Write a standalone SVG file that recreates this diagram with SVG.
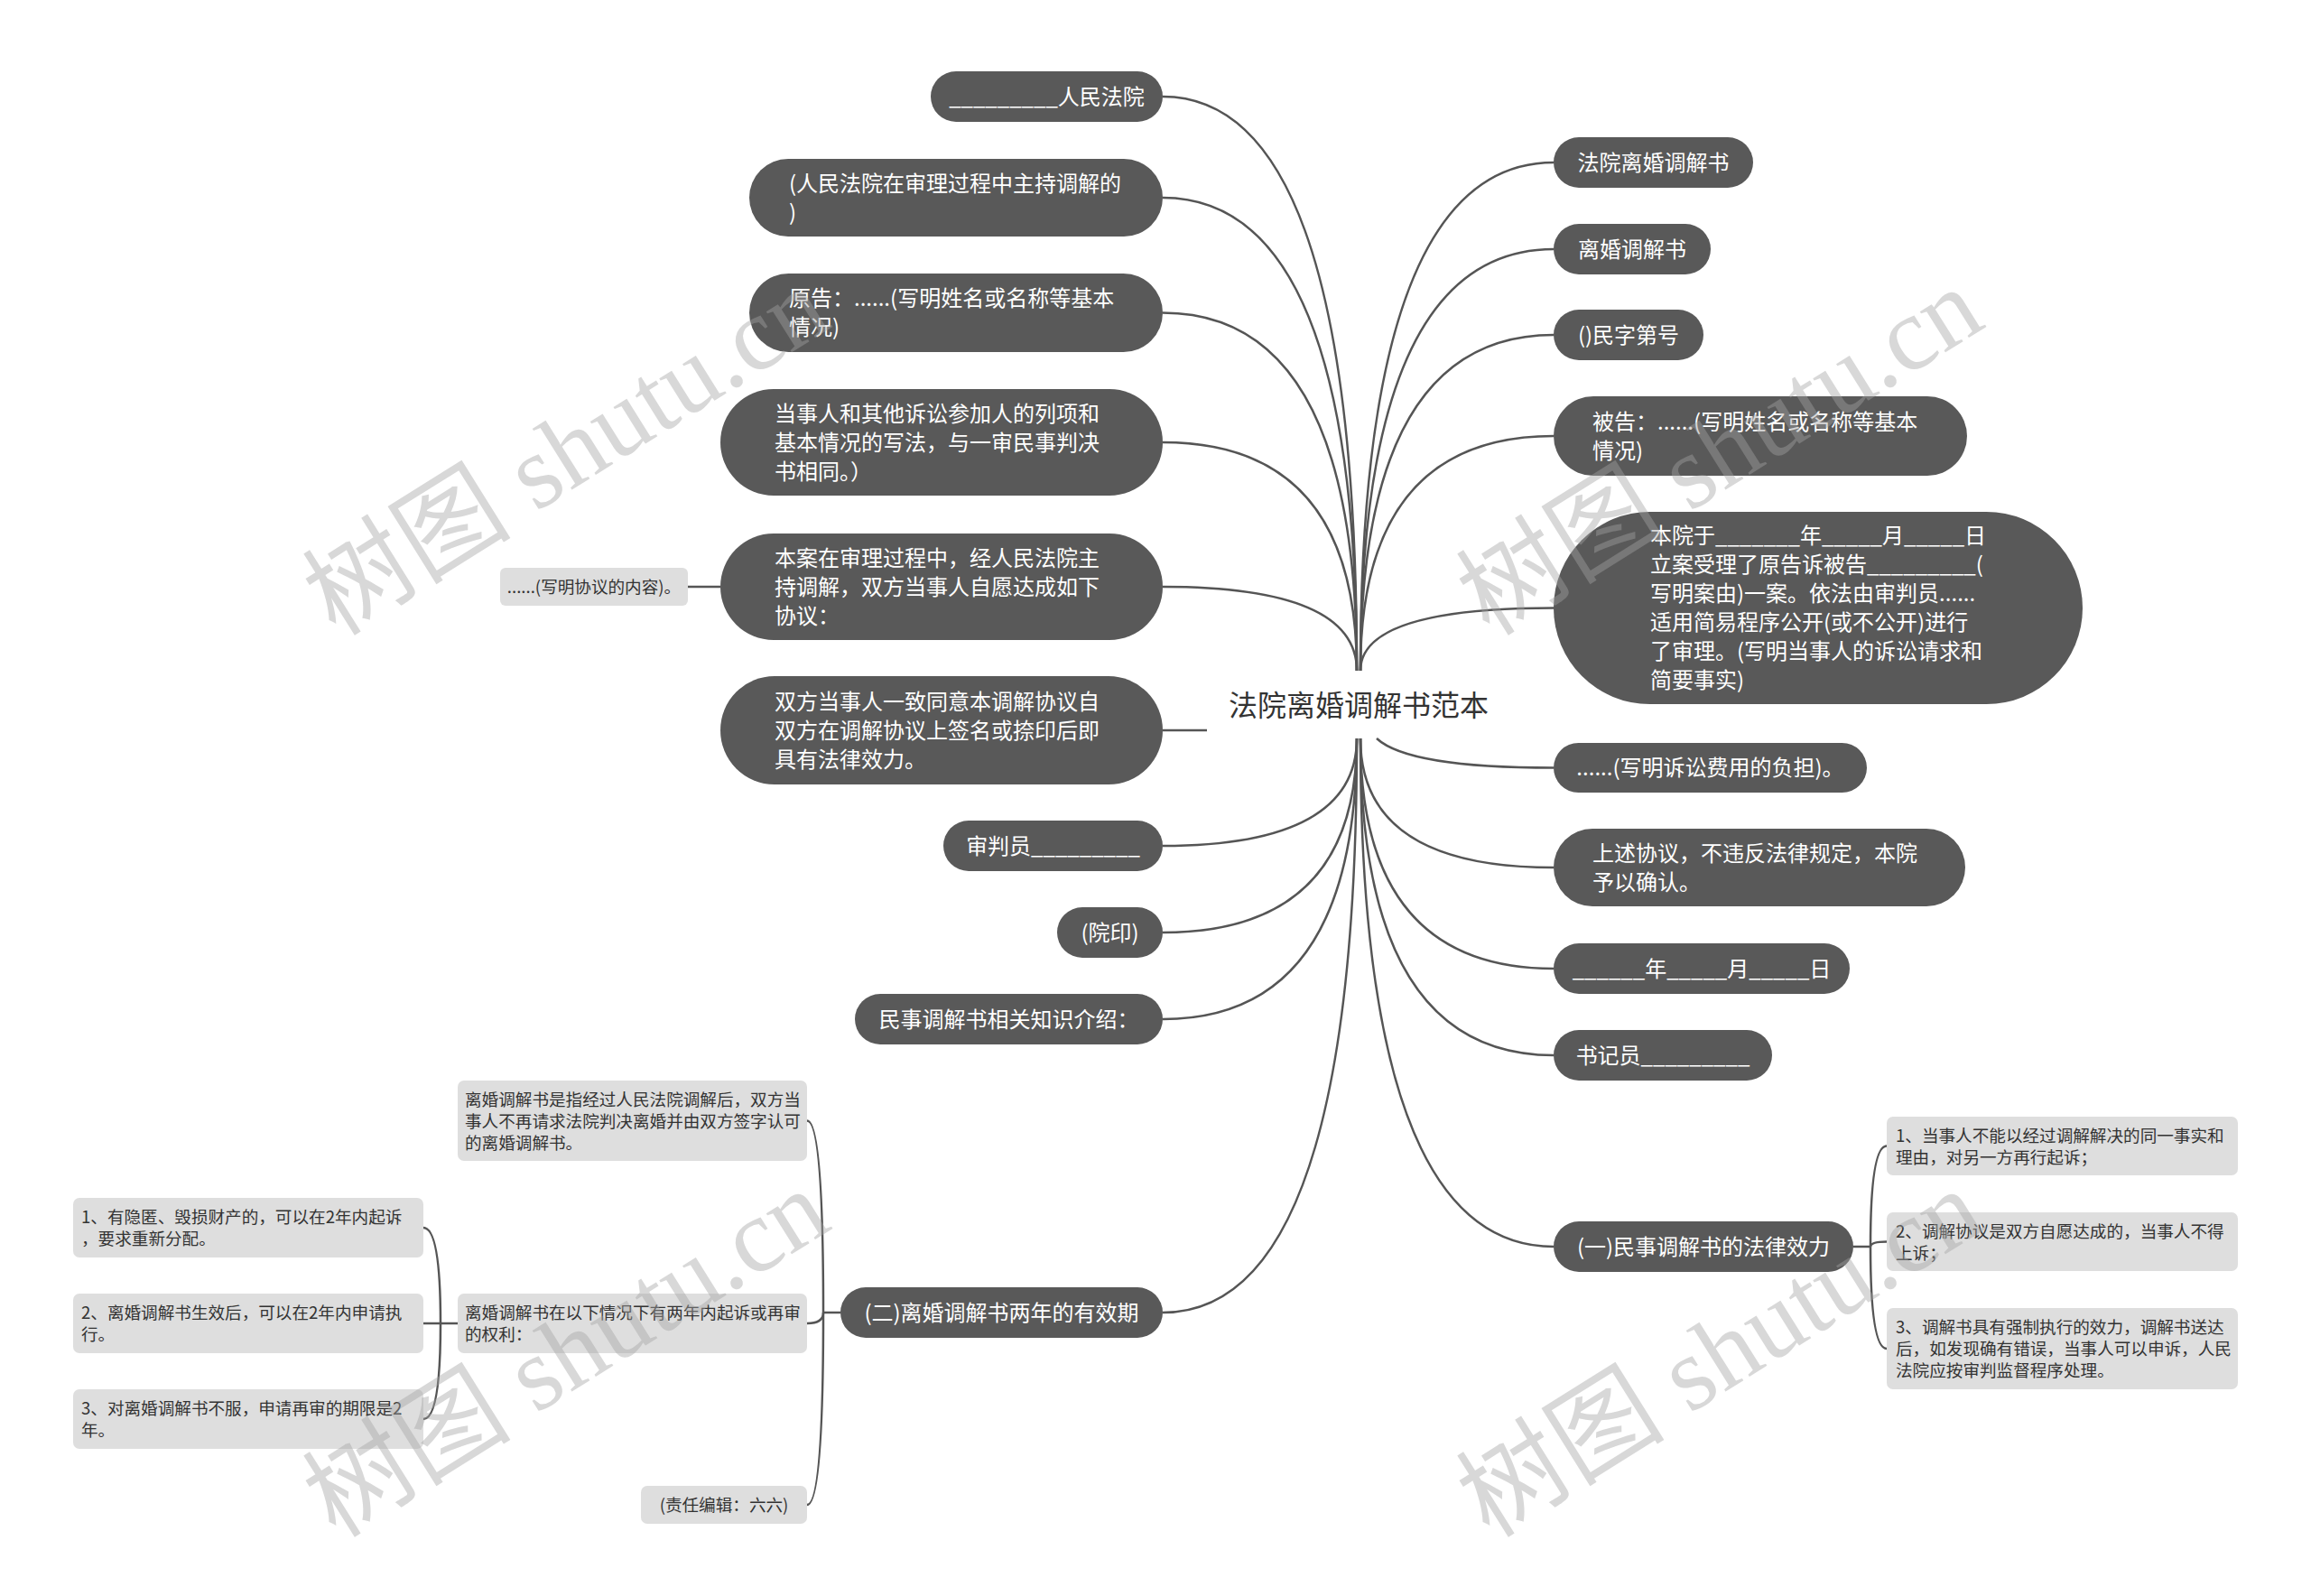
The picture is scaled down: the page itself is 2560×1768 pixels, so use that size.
<svg xmlns="http://www.w3.org/2000/svg" width="2560" height="1768" viewBox="0 0 2560 1768">
<style>
text{font-family:"Noto Sans CJK SC","Microsoft YaHei",sans-serif}
.conn path{fill:none;stroke:#555;stroke-width:2.5}
.dk rect{fill:#595959}
.dk text{fill:#fff;font-size:24px}
.lt rect{fill:#dedede}
.lt text{fill:#333;font-size:18.6px}
.m{text-anchor:middle}
.root text{fill:#333;font-size:32px;text-anchor:middle}
.wm{font-family:"Liberation Serif","Noto Sans CJK SC",serif;font-size:116px;fill:#a3a3a3;opacity:0.42}
</style>
<rect width="2560" height="1768" fill="#fff"/>
<g class="conn">
<path d="M1288,107 Q1503,107 1503,743"/>
<path d="M1288,219 Q1503,219 1503,743"/>
<path d="M1288,346.5 Q1503,346.5 1503,743"/>
<path d="M1288,490 Q1503,490 1503,743"/>
<path d="M1288,650 Q1503,650 1503,743"/>
<path d="M1721,180 Q1507,180 1507,743"/>
<path d="M1721,276 Q1507,276 1507,743"/>
<path d="M1721,371 Q1507,371 1507,743"/>
<path d="M1721,483 Q1507,483 1507,743"/>
<path d="M1721,673.5 Q1507,673.5 1507,743"/>
<path d="M1288,809 H1337"/>
<path d="M1288,937 Q1503,937 1503,818"/>
<path d="M1288,1033 Q1503,1033 1503,818"/>
<path d="M1288,1129 Q1503,1129 1503,818"/>
<path d="M1288,1454 Q1503,1454 1503,818"/>
<path d="M1525,818 Q1560,850.5 1721,850.5"/>
<path d="M1721,961 Q1507,961 1507,818"/>
<path d="M1721,1073 Q1507,1073 1507,818"/>
<path d="M1721,1169 Q1507,1169 1507,818"/>
<path d="M1721,1381 Q1507,1381 1507,818"/>
<path d="M798,650 H762"/>
<path d="M931,1454 H912"/>
<path d="M912,1454 Q912,1241.5 894,1241.5"/>
<path d="M912,1454 Q912,1466 894,1466"/>
<path d="M912,1454 Q912,1667 894,1667"/>
<path d="M507,1466 H488"/>
<path d="M488,1466 Q488,1360 469,1360"/>
<path d="M488,1466 H469"/>
<path d="M488,1466 Q488,1572 469,1572"/>
<path d="M2053,1381 H2072"/>
<path d="M2072,1381 Q2072,1269.5 2090,1269.5"/>
<path d="M2072,1381 Q2072,1375.5 2090,1375.5"/>
<path d="M2072,1381 Q2072,1494 2090,1494"/>
</g>
<g id="root" class="root"><text x="1505" y="793">法院离婚调解书范本</text></g>
<g id="nA" class="dk"><rect x="1031" y="79" width="257" height="56" rx="28"/><text class="m" x="1159.5" y="115.5">_________人民法院</text></g>
<g id="nB" class="dk"><rect x="830" y="176" width="458" height="86" rx="43"/><text x="874" y="211.5">(人民法院在审理过程中主持调解的</text><text x="874" y="243.5">)</text></g>
<g id="nC" class="dk"><rect x="830" y="303" width="458" height="87" rx="43.5"/><text x="874" y="339">原告：......(写明姓名或名称等基本</text><text x="874" y="371">情况)</text></g>
<g id="nD" class="dk"><rect x="798" y="431" width="490" height="118" rx="59"/><text x="858" y="466.5">当事人和其他诉讼参加人的列项和</text><text x="858" y="498.5">基本情况的写法，与一审民事判决</text><text x="858" y="530.5">书相同。）</text></g>
<g id="nE" class="dk"><rect x="798" y="591" width="490" height="118" rx="59"/><text x="858" y="626.5">本案在审理过程中，经人民法院主</text><text x="858" y="658.5">持调解，双方当事人自愿达成如下</text><text x="858" y="690.5">协议：</text></g>
<g id="nE1" class="lt"><rect x="554" y="629" width="208" height="42" rx="6"/><text class="m" x="658" y="657">......(写明协议的内容)。</text></g>
<g id="nF" class="dk"><rect x="798" y="749" width="490" height="120" rx="60"/><text x="858" y="785.5">双方当事人一致同意本调解协议自</text><text x="858" y="817.5">双方在调解协议上签名或捺印后即</text><text x="858" y="849.5">具有法律效力。</text></g>
<g id="nG" class="dk"><rect x="1045" y="909" width="243" height="56" rx="28"/><text class="m" x="1166.5" y="945.5">审判员_________</text></g>
<g id="nH" class="dk"><rect x="1171" y="1005" width="117" height="56" rx="28"/><text class="m" x="1229.5" y="1041.5">(院印)</text></g>
<g id="nI" class="dk"><rect x="947" y="1101" width="341" height="56" rx="28"/><text class="m" x="1117.5" y="1137.5">民事调解书相关知识介绍：</text></g>
<g id="nJ" class="dk"><rect x="931" y="1426" width="357" height="56" rx="28"/><text class="m" x="1109.5" y="1462.5">(二)离婚调解书两年的有效期</text></g>
<g id="nL1" class="lt"><rect x="507" y="1197" width="387" height="89" rx="7"/><text x="515" y="1225">离婚调解书是指经过人民法院调解后，双方当</text><text x="515" y="1249">事人不再请求法院判决离婚并由双方签字认可</text><text x="515" y="1273">的离婚调解书。</text></g>
<g id="nL2" class="lt"><rect x="507" y="1433" width="387" height="66" rx="7"/><text x="515" y="1461">离婚调解书在以下情况下有两年内起诉或再审</text><text x="515" y="1485">的权利：</text></g>
<g id="nL3" class="lt"><rect x="710" y="1646" width="184" height="42" rx="7"/><text class="m" x="802" y="1674">(责任编辑：六六)</text></g>
<g id="nL2a" class="lt"><rect x="81" y="1327" width="388" height="66" rx="7"/><text x="90" y="1355">1、有隐匿、毁损财产的，可以在2年内起诉</text><text x="90" y="1379">，要求重新分配。</text></g>
<g id="nL2b" class="lt"><rect x="81" y="1433" width="388" height="66" rx="7"/><text x="90" y="1461">2、离婚调解书生效后，可以在2年内申请执</text><text x="90" y="1485">行。</text></g>
<g id="nL2c" class="lt"><rect x="81" y="1539" width="388" height="66" rx="7"/><text x="90" y="1567">3、对离婚调解书不服，申请再审的期限是2</text><text x="90" y="1591">年。</text></g>
<g id="nR1" class="dk"><rect x="1721" y="152" width="221" height="56" rx="28"/><text class="m" x="1831.5" y="188.5">法院离婚调解书</text></g>
<g id="nR2" class="dk"><rect x="1721" y="248" width="174" height="56" rx="28"/><text class="m" x="1808" y="284.5">离婚调解书</text></g>
<g id="nR3" class="dk"><rect x="1721" y="343" width="166" height="56" rx="28"/><text class="m" x="1804" y="379.5">()民字第号</text></g>
<g id="nR4" class="dk"><rect x="1721" y="439" width="458" height="88" rx="44"/><text x="1764" y="475.5">被告：......(写明姓名或名称等基本</text><text x="1764" y="507.5">情况)</text></g>
<g id="nR5" class="dk"><rect x="1721" y="567" width="586" height="213" rx="106.5"/><text x="1828" y="602">本院于_______年_____月_____日</text><text x="1828" y="634">立案受理了原告诉被告_________(</text><text x="1828" y="666">写明案由)一案。依法由审判员......</text><text x="1828" y="698">适用简易程序公开(或不公开)进行</text><text x="1828" y="730">了审理。(写明当事人的诉讼请求和</text><text x="1828" y="762">简要事实)</text></g>
<g id="nR6" class="dk"><rect x="1721" y="823" width="347" height="55" rx="27.5"/><text class="m" x="1894.5" y="859">......(写明诉讼费用的负担)。</text></g>
<g id="nR7" class="dk"><rect x="1721" y="918" width="456" height="86" rx="43"/><text x="1764" y="953.5">上述协议，不违反法律规定，本院</text><text x="1764" y="985.5">予以确认。</text></g>
<g id="nR8" class="dk"><rect x="1721" y="1045" width="328" height="56" rx="28"/><text class="m" x="1885" y="1081.5">______年_____月_____日</text></g>
<g id="nR9" class="dk"><rect x="1721" y="1141" width="242" height="56" rx="28"/><text class="m" x="1842" y="1177.5">书记员_________</text></g>
<g id="nR10" class="dk"><rect x="1721" y="1353" width="332" height="56" rx="28"/><text class="m" x="1887" y="1389.5">(一)民事调解书的法律效力</text></g>
<g id="nRc1" class="lt"><rect x="2090" y="1237" width="389" height="65" rx="7"/><text x="2100" y="1264.5">1、当事人不能以经过调解解决的同一事实和</text><text x="2100" y="1288.5">理由，对另一方再行起诉；</text></g>
<g id="nRc2" class="lt"><rect x="2090" y="1343" width="389" height="65" rx="7"/><text x="2100" y="1370.5">2、调解协议是双方自愿达成的，当事人不得</text><text x="2100" y="1394.5">上诉；</text></g>
<g id="nRc3" class="lt"><rect x="2090" y="1449" width="389" height="90" rx="7"/><text x="2100" y="1477">3、调解书具有强制执行的效力，调解书送达</text><text x="2100" y="1501">后，如发现确有错误，当事人可以申诉，人民</text><text x="2100" y="1525">法院应按审判监督程序处理。</text></g>
<g id="watermark">
<text class="wm" transform="translate(372,706) rotate(-32)">树图 shutu.cn</text>
<text class="wm" transform="translate(1650,706) rotate(-32)">树图 shutu.cn</text>
<text class="wm" transform="translate(372,1705) rotate(-32)">树图 shutu.cn</text>
<text class="wm" transform="translate(1650,1705) rotate(-32)">树图 shutu.cn</text>
</g>
</svg>
